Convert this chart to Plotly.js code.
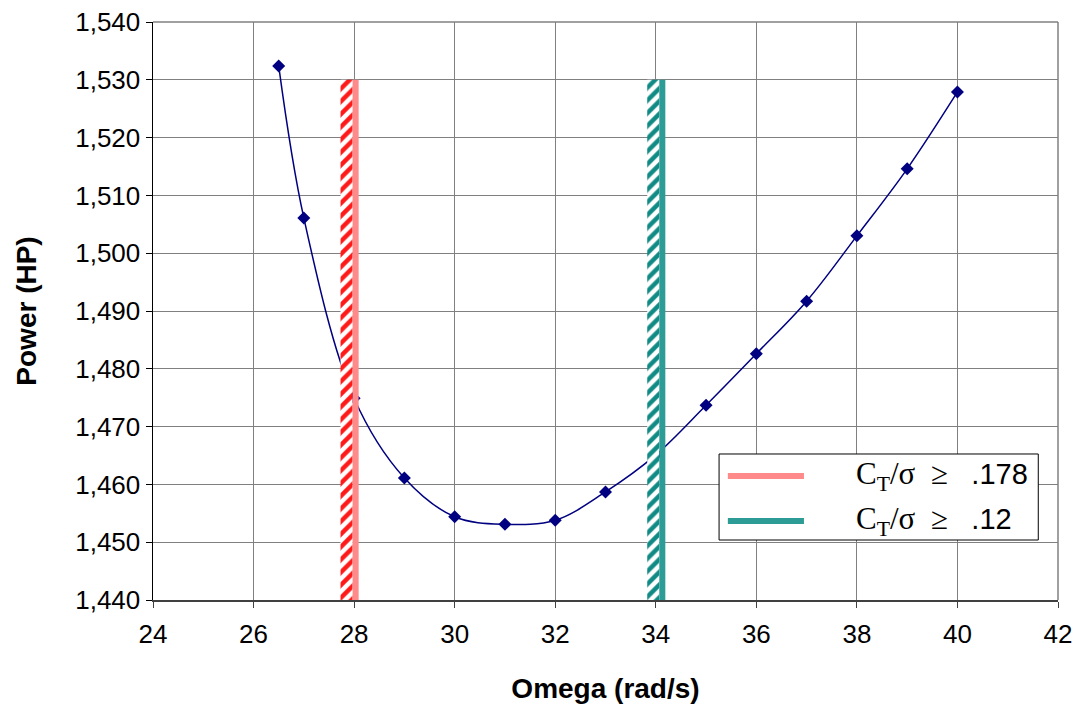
<!DOCTYPE html>
<html>
<head>
<meta charset="utf-8">
<script src="https://cdn.plot.ly/plotly-3.0.1.min.js"></script>
<style>html,body{margin:0;padding:0;background:#fff;}#chart{width:1078px;height:706px;}</style>
</head>
<body>
<div id="chart"></div>
<script>
// Data
const omega = [26.5, 27, 28, 29, 30, 31, 32, 33, 34, 35, 36, 37, 38, 39, 40];
const powerHP = [1532.4, 1506.1, 1474.9, 1461.1, 1454.4, 1453.1, 1453.8, 1458.7, 1465.1, 1473.7, 1482.6, 1491.7, 1503.0, 1514.6, 1527.9];
const limitOmega = [27.9, 34.0];
const limitTop = [1530, 1530];
const limitLabels = ['.178', '.12'];
const xTicks = [24, 26, 28, 30, 32, 34, 36, 38, 40, 42];
const yTicks = [1440, 1450, 1460, 1470, 1480, 1490, 1500, 1510, 1520, 1530, 1540];

const hatchColors = ['#ff1a1a', '#108a84'];
const solidColors = ['#ff8a8a', '#2e9c96'];
const yBase = 1440;

const traces = [{
  x: omega, y: powerHP, type: 'scatter', mode: 'lines+markers',
  line: {color: '#000080', width: 1.5, shape: 'spline', smoothing: 1},
  marker: {symbol: 'diamond', size: 10, color: '#000080'},
  showlegend: false, hoverinfo: 'x+y'
}];

function rect(x0, x1, y0, y1) {
  return {x: [x0, x1, x1, x0, x0], y: [y0, y0, y1, y1, y0]};
}

limitOmega.forEach((c, i) => {
  const hatch = rect(c - 0.17, c + 0.07, yBase, limitTop[i]);
  traces.push({
    x: hatch.x, y: hatch.y, type: 'scatter', mode: 'none', fill: 'toself',
    fillcolor: '#ffffff',
    fillpattern: {shape: '/', fgcolor: hatchColors[i], bgcolor: '#ffffff', size: 9, solidity: 0.5},
    showlegend: false, hoverinfo: 'skip'
  });
  const solid = rect(c + 0.07, c + 0.19, yBase, limitTop[i]);
  traces.push({
    x: solid.x, y: solid.y, type: 'scatter', mode: 'none', fill: 'toself',
    fillcolor: solidColors[i], showlegend: false, hoverinfo: 'skip'
  });
});

const font = {family: 'Arial, "Liberation Sans", sans-serif', color: '#000'};

const shapes = [
  {type: 'line', xref: 'paper', yref: 'paper', x0: 0, x1: 1, y0: 1, y1: 1, line: {color: '#808080', width: 1.5}},
  {type: 'line', xref: 'paper', yref: 'paper', x0: 1, x1: 1, y0: 0, y1: 1, line: {color: '#808080', width: 1.5}},
  {type: 'rect', xref: 'paper', yref: 'paper', x0: 0.6255, x1: 0.9782, y0: 0.1038, y1: 0.2526,
   fillcolor: '#ffffff', line: {color: '#000', width: 1}, layer: 'above'},
  {type: 'line', xref: 'paper', yref: 'paper', x0: 0.6352, x1: 0.7193, y0: 0.2145, y1: 0.2145,
   line: {color: solidColors[0], width: 6}, layer: 'above'},
  {type: 'line', xref: 'paper', yref: 'paper', x0: 0.6352, x1: 0.7193, y0: 0.1367, y1: 0.1367,
   line: {color: solidColors[1], width: 6}, layer: 'above'}
];

const legendY = [0.2145, 0.1367];
const annotations = limitLabels.map((lab, i) => ({
  xref: 'paper', yref: 'paper', x: 0.7745, y: legendY[i], xanchor: 'left', yanchor: 'middle',
  showarrow: false,
  text: '<span style="font-family:\'Liberation Serif\', \'Times New Roman\', serif; font-size:31px">C<sub>T</sub>/σ  ≥  </span> ' + lab,
  font: Object.assign({}, font, {size: 29})
}));

const layout = {
  width: 1078, height: 706,
  margin: {l: 153, r: 20, t: 22, b: 106},
  paper_bgcolor: '#fff', plot_bgcolor: '#fff',
  showlegend: false,
  font: font,
  xaxis: {
    range: [24, 42], tickvals: xTicks, ticktext: xTicks.map(String),
    showgrid: true, gridcolor: '#808080', gridwidth: 1,
    showline: true, linecolor: '#404040', linewidth: 1.5,
    ticks: 'outside', ticklen: 6, tickcolor: '#404040',
    ticklabelstandoff: 4,
    tickfont: Object.assign({}, font, {size: 26}),
    zeroline: false,
    title: {text: '<b>Omega (rad/s)</b>', font: Object.assign({}, font, {size: 28}), standoff: 30}
  },
  yaxis: {
    range: [1440, 1540], tickvals: yTicks, ticktext: yTicks.map(v => v.toLocaleString('en-US')),
    showgrid: true, gridcolor: '#808080', gridwidth: 1,
    showline: true, linecolor: '#000', linewidth: 1.5,
    ticks: 'outside', ticklen: 6, tickcolor: '#000',
    tickfont: Object.assign({}, font, {size: 26}),
    zeroline: false,
    title: {text: '<b>Power (HP)</b>', font: Object.assign({}, font, {size: 28}), standoff: 30}
  },
  shapes: shapes,
  annotations: annotations
};

Plotly.newPlot('chart', traces, layout, {displayModeBar: false, staticPlot: true});
</script>
</body>
</html>
